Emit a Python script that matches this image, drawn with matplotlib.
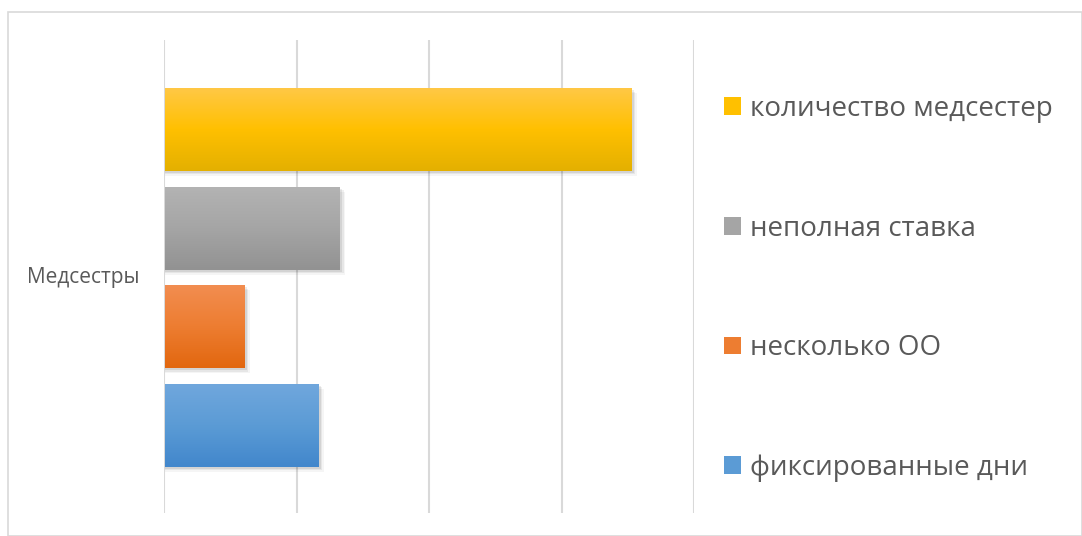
import matplotlib.pyplot as plt
import numpy as np
from matplotlib.colors import LinearSegmentedColormap
from matplotlib.patches import Patch, Rectangle

plt.rcParams["font.family"] = ["Open Sans", "DejaVu Sans"]

category = "Медсестры"
series = ["фиксированные дни", "несколько ОО", "неполная ставка", "количество медсестер"]
values = [5.8, 3.0, 6.6, 17.6]
# (top, middle, bottom) colours of each bar's gradient
gradients = [
    ("#70a7dd", "#5b9bd5", "#4287cc"),
    ("#f28d50", "#ed7d31", "#e2670f"),
    ("#b3b3b3", "#a5a5a5", "#929292"),
    ("#ffc845", "#ffc000", "#e4b000"),
]
x_ticks = [0, 5, 10, 15, 20]

fig = plt.figure(figsize=(10.82, 5.36), dpi=100)
ax = fig.add_axes([164 / 1082, 1 - 513 / 536, 530 / 1082, 473 / 536])

# outer chart frame
fig.patches.append(Rectangle((8 / 1082, 0), 1 - 8 / 1082, 1 - 12 / 536,
                             transform=fig.transFigure, fill=False,
                             edgecolor="#d9d9d9", linewidth=1.2))

ypos = np.arange(len(values))
h = 0.84

# soft shadow, down and to the right
for i, a in [(0.05, 0.04), (0.035, 0.06), (0.02, 0.08)]:
    ax.barh(ypos - i, [v + i * 4 for v in values], height=h, left=0.04,
            color="black", alpha=a, zorder=2, linewidth=0)

bars = ax.barh(ypos, values, height=h, left=0.03, color=[g[1] for g in gradients],
               zorder=3, linewidth=0)
for bar, g in zip(bars, gradients):
    cmap = LinearSegmentedColormap.from_list("g", [g[2], g[1], g[0]])
    x0, y0 = bar.get_x(), bar.get_y()
    im = ax.imshow(np.linspace(0, 1, 100).reshape(-1, 1), cmap=cmap, aspect="auto",
                   origin="lower", extent=[x0, x0 + bar.get_width(), y0, y0 + bar.get_height()],
                   zorder=4)
    im.set_clip_path(bar)

ax.set_xlim(0, 20)
ax.set_ylim(-0.887, 3.907)
ax.set_xticks(x_ticks)
ax.set_xticklabels([])
ax.set_yticks([])
ax.tick_params(length=0)
ax.grid(axis="x", color="#d9d9d9", linewidth=1.5, zorder=0)
for s in ax.spines.values():
    s.set_visible(False)

fig.text(83 / 1082, 1 - 277 / 536, category, ha="center", va="center",
         fontsize=15, color="#595959")

handles = [Patch(facecolor=g[1], edgecolor="none") for g in gradients]
leg = fig.legend(handles[::-1], series[::-1], loc="center left",
                 bbox_to_anchor=(699 / 1082, 1 - 288.5 / 536), frameon=False,
                 fontsize=20, labelcolor="#595959", labelspacing=3.3,
                 handlelength=0.61, handleheight=0.61, handletextpad=0.32)

fig.savefig("out.png", dpi=100)
